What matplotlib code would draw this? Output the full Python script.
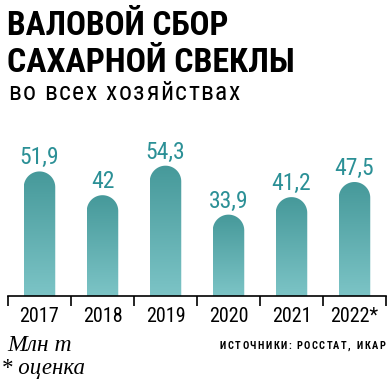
import numpy as np
import matplotlib
matplotlib.use('Agg')
import matplotlib.pyplot as plt
from matplotlib import font_manager as fm
from matplotlib.path import Path
from matplotlib.patches import PathPatch
from matplotlib.colors import LinearSegmentedColormap

years = ['2017', '2018', '2019', '2020', '2021', '2022*']
values = [51.9, 42, 54.3, 33.9, 41.2, 47.5]
value_labels = ['51,9', '42', '54,3', '33,9', '41,2', '47,5']

W, H = 390, 379
fig = plt.figure(figsize=(W / 100, H / 100), dpi=100)
renderer = fig.canvas.get_renderer()

# pick a narrow font if there is one
names = {f.name for f in fm.fontManager.ttflist}
NARROW = {'family': 'DejaVu Sans', 'stretch': 'condensed'}
for cand in ['Liberation Sans Narrow', 'Roboto Condensed', 'Open Sans Condensed',
             'DejaVu Sans Condensed']:
    if cand in names:
        NARROW = {'family': cand}
        break

TEAL = '#2b9096'


def px(x, y):
    return x / W, 1 - y / H


def fit_text(x, y, s, width, **kw):
    # place text at baseline y, scaling fontsize so that it is `width` px wide
    t = fig.text(*px(x, y), s, va='baseline', **kw)
    w = t.get_window_extent(renderer).width
    t.set_fontsize(t.get_fontsize() * width / w)
    return t


def spaced_text(x, y, s, width, **kw):
    # letter-spaced text from x to x + width, baseline at y
    ts = []
    total = 0
    for ch in s:
        t = fig.text(*px(x, y), ch if ch != ' ' else 'i', va='baseline', ha='left', **kw)
        w = t.get_window_extent(renderer).width
        if ch == ' ':
            t.set_text(' ')
        ts.append((t, w))
        total += w
    gap = (width - total) / (len(s) - 1)
    for t, w in ts:
        t.set_x(x / W)
        x += w + gap


# title
fit_text(7, 35, 'ВАЛОВОЙ СБОР', 222, fontsize=27, fontweight='bold', **NARROW)
fit_text(7, 72, 'САХАРНОЙ СВЕКЛЫ', 288, fontsize=27, fontweight='bold', **NARROW)
spaced_text(8, 100, 'во всех хозяйствах', 232, fontsize=18.5, **NARROW)

# axes
ax = fig.add_axes([8 / W, 83 / H, 378 / W, 144 / H])
ax.set_xlim(-0.5, len(years) - 0.5)
ax.set_ylim(0, 60)
for s in ['top', 'right', 'left']:
    ax.spines[s].set_visible(False)
ax.spines['bottom'].set_linewidth(1.2)
ax.set_yticks([])
ax.set_xticks(np.arange(len(years) + 1) - 0.5)
ax.set_xticklabels([])
ax.tick_params(axis='x', length=7, width=1.2, direction='out')
ax.patch.set_visible(False)

bw = 0.5
bars = ax.bar(range(len(years)), values, width=bw, color='none')

# half bar width in y data units, so the cap looks round
px_x = ax.transData.transform((1, 0))[0] - ax.transData.transform((0, 0))[0]
px_y = ax.transData.transform((0, 1))[1] - ax.transData.transform((0, 0))[1]
rx = bw / 2
ry = rx * px_x / px_y

cmap = LinearSegmentedColormap.from_list('g', ['#7cc4c6', '#46999a'])
grad = np.linspace(0, 1, 256).reshape(-1, 1)

for b, lab in zip(bars, value_labels):
    x0 = b.get_x()
    x1 = x0 + b.get_width()
    xc = (x0 + x1) / 2
    h = b.get_height()
    theta = np.linspace(np.pi, 0, 40)
    arc = np.column_stack([xc + rx * np.cos(theta), h - ry + ry * np.sin(theta)])
    verts = np.vstack([[x0, 0], [x0, h - ry], arc, [x1, h - ry], [x1, 0], [x0, 0]])
    patch = PathPatch(Path(verts), facecolor='none', edgecolor='none')
    ax.add_patch(patch)
    im = ax.imshow(grad, extent=(x0, x1, 0, h), origin='lower', cmap=cmap,
                   aspect='auto', zorder=2)
    im.set_clip_path(patch)
    ax.text(xc, h + 7 / px_y, lab, ha='center', va='baseline', fontsize=17,
            color=TEAL, **NARROW)

ax.set_xlim(-0.5, len(years) - 0.5)
ax.set_ylim(0, 60)

for i, y in enumerate(years):
    ax.text(i, -26 / 144, y, ha='center', va='baseline', fontsize=14.5,
            transform=ax.get_xaxis_transform(), clip_on=False, **NARROW)

fig.text(*px(7, 351), 'Млн т', fontsize=17, style='italic',
         family='Liberation Serif', va='baseline')
fig.text(*px(1, 374), '* оценка', fontsize=16.5, style='italic',
         family='Liberation Serif', va='baseline')
spaced_text(220, 349, 'ИСТОЧНИКИ: РОССТАТ, ИКАР', 165, fontsize=7.5,
            fontweight='bold', **NARROW)

fig.savefig('out.png', dpi=100)
